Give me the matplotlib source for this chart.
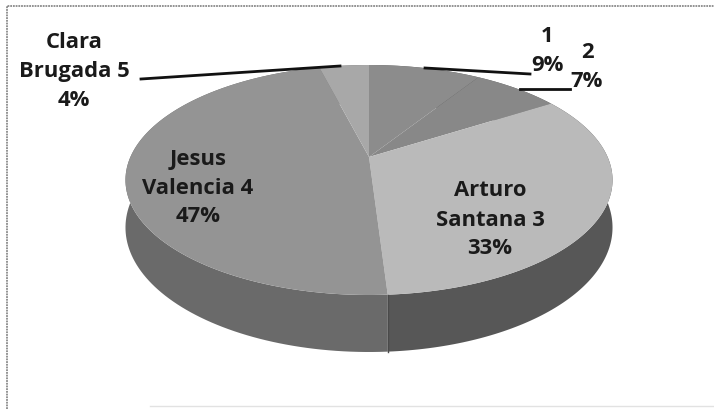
import matplotlib.pyplot as plt
import numpy as np

# Share of each candidate (percent), clockwise from 12 o'clock
names = ['1', '2', 'Arturo\nSantana 3', 'Jesus\nValencia 4', 'Clara\nBrugada 5']
shares = [9, 7, 33, 47, 4]

top_colors = ['#8c8c8c', '#888888', '#bababa', '#949494', '#a8a8a8']
side_colors = ['#5c5c5c', '#5c5c5c', '#575757', '#6a6a6a', '#707070']

# pie geometry in pixels (y grows downward)
CX, CY = 369, 157
A, S, K = 238.6, 110.4, 0.2
DEPTH = 45.6


def proj(theta, depth=0.0):
    t = np.radians(theta)
    X, Y = np.sin(t), np.cos(t)
    w = 1 + K * Y
    return CX + A * X / w, CY + (-S * Y + depth) / w


fig = plt.figure(figsize=(7.14, 4.09), dpi=100)
ax = fig.add_axes([0, 0, 1, 1])
ax.set_xlim(0, 714)
ax.set_ylim(409, 0)
ax.axis('off')

# chart frame
ax.plot([7, 7, 714], [409, 6, 6], color='#8a8a8a', lw=1.3, ls=(0, (1, 0.5)))
ax.plot([150, 714], [406, 406], color='#e2e2e2', lw=1.0)

edges = np.concatenate([[0], np.cumsum(shares)]) * 3.6

# outer walls first, the top faces cover the hidden back parts
for i in range(len(shares)):
    th = np.linspace(edges[i], edges[i + 1], 120)
    xt, yt = proj(th)
    xb, yb = proj(th, DEPTH)
    ax.fill(np.concatenate([xt, xb[::-1]]), np.concatenate([yt, yb[::-1]]),
            color=side_colors[i], lw=0)

# top faces
for i in range(len(shares)):
    th = np.linspace(edges[i], edges[i + 1], 120)
    xt, yt = proj(th)
    ax.fill(np.concatenate([[CX], xt]), np.concatenate([[CY], yt]),
            color=top_colors[i], lw=0)

# seam between Arturo and Jesus on the front wall
xs, ys = proj(np.array([edges[3], edges[3]]), np.array([0, DEPTH]))
ax.plot(xs, ys, color='#4a4a4a', lw=1)

font = dict(family=['Open Sans', 'DejaVu Sans'], fontweight='bold',
            fontsize=15.8, color='#1a1a1a', ha='center', va='center',
            linespacing=1.5)

pct = [f'{v}%' for v in shares]
ax.text(547, 51, names[0] + '\n' + pct[0], **font)
ax.text(587, 67, names[1] + '\n' + pct[1], **font)
ax.text(490, 220, names[2] + '\n' + pct[2], **font)
ax.text(198, 188, names[3] + '\n' + pct[3], **font)
ax.text(74, 71, names[4] + '\n' + pct[4], **font)

# leader lines for the small slices
ax.plot([425, 530], [68, 74], color='#111111', lw=2)
ax.plot([520, 570], [89, 89], color='#111111', lw=2)
ax.plot([141, 340], [79, 66], color='#111111', lw=2)

fig.savefig('out.png', dpi=100)
